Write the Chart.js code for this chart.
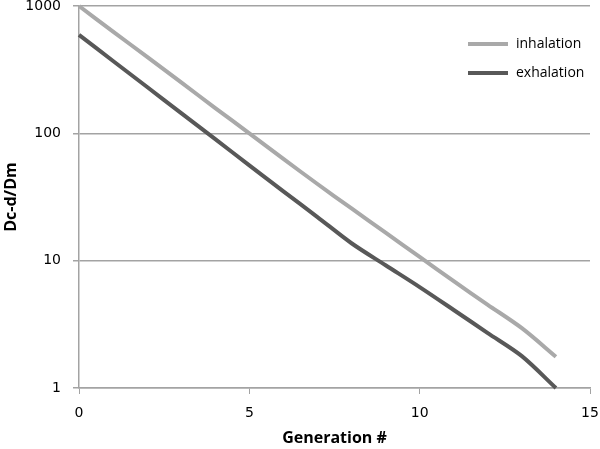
<!DOCTYPE html>
<html>
<head>
<meta charset="utf-8">
<script src="https://cdn.jsdelivr.net/npm/chart.js@4.4.1/dist/chart.umd.min.js"></script>
<style>
    html, body { margin: 0; padding: 0; background: #fff; }
    #wrap { width: 600px; height: 449px; }
</style>
</head>
<body>
<div id="wrap"><canvas id="chart" width="600" height="449"></canvas></div>
<script>
// Data
const generations = [0, 1, 2, 3, 4, 5, 6, 7, 8, 9, 10, 11, 12, 13, 14];
const inhalation = [1000, 630, 398, 251, 158, 100, 63, 40, 25.7, 16.6, 10.7, 6.9, 4.5, 2.95, 1.76];
const exhalation = [593, 370, 231, 144, 90, 56, 35, 22, 13.7, 9.2, 6.2, 4.1, 2.7, 1.78, 1.0];
const yTicks = [1, 10, 100, 1000];
const xTicks = [0, 5, 10, 15];
const seriesNames = ["inhalation", "exhalation"];

const GRID = "#a3a3a3";
const TICK_FONT = { family: "DejaVu Sans", size: 14 };
const TITLE_FONT = { family: "Open Sans", size: 16, weight: "bold" };

const toPoints = (ys) => generations.map((g, i) => ({ x: g, y: ys[i] }));

// legend drawn inside the plot, top right
const insideLegend = {
    id: "insideLegend",
    afterDatasetsDraw(chart) {
        const ctx = chart.ctx;
        const area = chart.chartArea;
        ctx.save();
        ctx.font = "14px 'Open Sans'";
        ctx.textBaseline = "middle";
        chart.data.datasets.forEach((ds, i) => {
            const y = area.top + 38 + i * 29;
            const x0 = area.right - 122;
            ctx.strokeStyle = ds.borderColor;
            ctx.lineWidth = 4;
            ctx.beginPath();
            ctx.moveTo(x0, y);
            ctx.lineTo(x0 + 40, y);
            ctx.stroke();
            ctx.fillStyle = "#000";
            ctx.fillText(ds.label, x0 + 48, y);
        });
        ctx.restore();
    },
};

new Chart(document.getElementById("chart"), {
    type: "line",
    data: {
        datasets: [
            {
                label: seriesNames[0],
                data: toPoints(inhalation),
                borderColor: "#a9a9a9",
                borderWidth: 4,
                pointRadius: 0,
                tension: 0.3,
                clip: false,
            },
            {
                label: seriesNames[1],
                data: toPoints(exhalation),
                borderColor: "#585858",
                borderWidth: 4,
                pointRadius: 0,
                tension: 0.3,
                clip: false,
            },
        ],
    },
    options: {
        responsive: false,
        animation: false,
        layout: { padding: { top: 6, right: 10, left: 0, bottom: 0 } },
        plugins: {
            legend: { display: false },
            tooltip: { enabled: false },
        },
        scales: {
            x: {
                type: "linear",
                min: 0,
                max: 15,
                afterBuildTicks: (scale) => {
                    scale.ticks = xTicks.map((v) => ({ value: v }));
                },
                afterFit: (scale) => {
                    scale.height = 61;
                    scale.paddingLeft = 0;
                    scale.paddingRight = 0;
                },
                grid: {
                    drawOnChartArea: false,
                    drawTicks: true,
                    tickLength: 6,
                    color: GRID,
                },
                border: { color: GRID, width: 1.5 },
                ticks: { color: "#000", font: TICK_FONT, padding: 11, maxRotation: 0 },
                title: {
                    display: true,
                    text: "Generation #",
                    color: "#000",
                    font: TITLE_FONT,
                    padding: { top: 0, bottom: 1 },
                },
            },
            y: {
                type: "logarithmic",
                min: 1,
                max: 1000,
                afterBuildTicks: (scale) => {
                    scale.ticks = yTicks.map((v) => ({ value: v }));
                },
                afterFit: (scale) => {
                    scale.width = 79;
                    scale.paddingTop = 0;
                    scale.paddingBottom = 0;
                },
                grid: {
                    color: GRID,
                    lineWidth: 1.5,
                    drawTicks: true,
                    tickLength: 6,
                },
                border: { color: GRID, width: 1.5 },
                ticks: {
                    color: "#000",
                    font: TICK_FONT,
                    padding: 12,
                    callback: (v) => String(v),
                },
                title: {
                    display: true,
                    text: "Dc-d/Dm",
                    color: "#000",
                    font: TITLE_FONT,
                    padding: { top: 2, bottom: 0 },
                },
            },
        },
    },
    plugins: [insideLegend],
});
</script>
</body>
</html>
